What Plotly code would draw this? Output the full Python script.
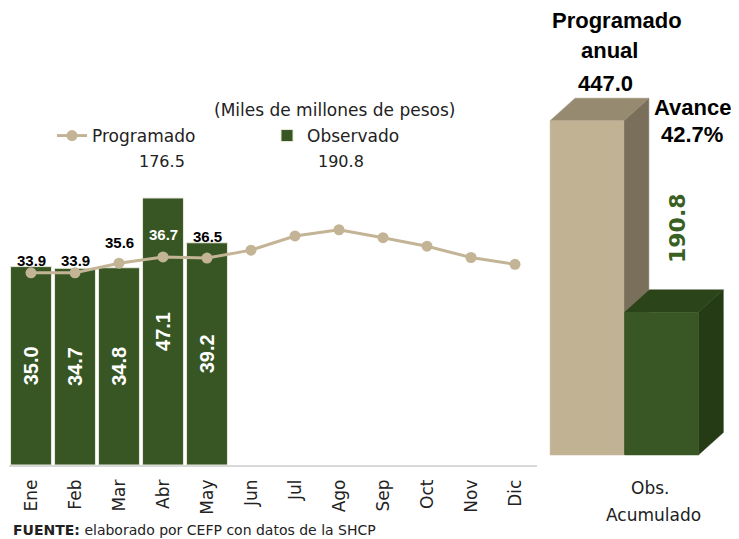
import plotly.graph_objects as go

# ---------------- data ----------------
meses = ["Ene", "Feb", "Mar", "Abr", "May", "Jun", "Jul", "Ago", "Sep", "Oct", "Nov", "Dic"]
programado = [33.9, 33.9, 35.6, 36.7, 36.5, 37.9, 40.4, 41.5, 40.1, 38.6, 36.6, 35.4]
observado = [35.0, 34.7, 34.8, 47.1, 39.2]
prog_acumulado = 176.5
obs_acumulado = 190.8
programado_anual = 447.0
avance_pct = 42.7
acum_categorias = [0, 1]   # 0: Programado anual, 1: Obs. Acumulado
acum_valores = [programado_anual, obs_acumulado]

# ---------------- style ----------------
W, H = 739, 539
OFF = 8                      # page body margin of the html page
FW, FH = W - OFF, H - OFF    # figure size so it fits the window
GREEN = "#375623"
BEIGE_LINE = "#C4B496"
F_THIN = "DejaVu Sans"
F_BOLD = "Liberation Sans"


def px(x):
    return (x - OFF) / FW


def py(y):
    return 1 - (y - OFF) / FH


fig = go.Figure()

# main monthly chart
fig.add_trace(go.Bar(
    x=meses[:len(observado)], y=observado, name="Observado",
    marker=dict(color=GREEN, line=dict(color="#e8e8dc", width=1)),
    text=[f"{v:.1f}" for v in observado], textposition="inside",
    insidetextanchor="middle", textangle=-90,
    textfont=dict(family=F_BOLD, size=20, color="white", weight="bold"),
    hoverinfo="skip",
))
fig.add_trace(go.Scatter(
    x=meses, y=programado, name="Programado", mode="lines+markers",
    line=dict(color=BEIGE_LINE, width=3),
    marker=dict(color=BEIGE_LINE, size=11),
    hoverinfo="skip",
))

# labels for programado (first months)
lab_shift = [12, 12, 21, 22, 22]
lab_color = ["black", "black", "black", "white", "black"]
for i in range(len(observado)):
    fig.add_annotation(
        x=meses[i], y=programado[i], xref="x", yref="y",
        text=f"<b>{programado[i]:.1f}</b>", showarrow=False, yshift=lab_shift[i],
        font=dict(family=F_BOLD, size=15, color=lab_color[i]),
    )

# ---------------- 3D cumulative bars (all faces as filled scatter, drawn in order) ----------------
front_colors = ["#C2B294", "#385724"]
top_colors = ["#968A71", "#2B4419"]
side_colors = ["#7A6F5B", "#253B16"]
half_w = 0.495
dx, dy = 0.335, 30.0


def face(xs, ys, color):
    fig.add_trace(go.Scatter(x=xs, y=ys, fill="toself", fillcolor=color, mode="lines",
                             line=dict(width=0.5, color=color), xaxis="x2", yaxis="y2",
                             showlegend=False, hoverinfo="skip"))


for c, v, fc, tc, sc in zip(acum_categorias, acum_valores, front_colors, top_colors, side_colors):
    l, r = c - half_w, c + half_w
    face([r, r + dx, r + dx, r, r], [0, dy, v + dy, v, 0], sc)
    face([l, l + dx, r + dx, r, l], [v, v + dy, v + dy, v, v], tc)
    face([l, r, r, l, l], [0, 0, v, v, 0], fc)

# ---------------- axes ----------------
base_main, top_main = 465, 95
scale_main = 5.669
fig.update_layout(
    xaxis=dict(domain=[px(9), px(537)], range=[-0.5, 11.5], tickangle=-90,
               tickfont=dict(family=F_THIN, size=17, color="#222"),
               ticklabelstandoff=6,
               showline=True, linecolor="#d9d9d9", linewidth=1.5, ticks="",
               showgrid=False, zeroline=False, fixedrange=True),
    yaxis=dict(domain=[py(base_main), py(top_main)],
               range=[0, (base_main - top_main) / scale_main],
               visible=False, showgrid=False, zeroline=False),
)

base_r = 455
scale_r = 0.748
c0_px, step_px = 587, 74.5
fig.update_layout(
    xaxis2=dict(domain=[px(545), 1], anchor="y2",
                range=[(545 - c0_px) / step_px, (W - c0_px) / step_px], visible=False),
    yaxis2=dict(domain=[0, 1], anchor="x2",
                range=[-(H - base_r) / scale_r, (base_r - OFF) / scale_r], visible=False),
)

# ---------------- annotations ----------------
def ann(x, y, text, size, family=F_THIN, color="#222", angle=0, xanchor="center"):
    fig.add_annotation(x=px(x), y=py(y), xref="paper", yref="paper", text=text,
                       showarrow=False, textangle=angle, xanchor=xanchor, yanchor="middle",
                       font=dict(family=family, size=size, color=color))

ann(334, 110, "(Miles de millones de pesos)", 17)
ann(162, 162, f"{prog_acumulado:.1f}", 16)
ann(341, 162, f"{obs_acumulado:.1f}", 16)
ann(617, 20, "<b>Programado</b>", 22, F_BOLD, "black")
ann(609, 51, "<b>anual</b>", 22, F_BOLD, "black")
ann(605, 84, f"<b>{programado_anual:.1f}</b>", 22, F_BOLD, "black")
ann(692, 108, "<b>Avance</b>", 22, F_BOLD, "black")
ann(692, 134, f"<b>{avance_pct:.1f}%</b>", 22, F_BOLD, "black")
ann(677, 228, f"<b>{obs_acumulado:.1f}</b>", 22, "DejaVu Sans", "#3A5F22", angle=-90)
ann(650, 488, "Obs.", 17)
ann(653, 515, "Acumulado", 17)
ann(11, 530, "<b>FUENTE:</b> elaborado por CEFP con datos de la SHCP", 14, xanchor="left")

fig.update_layout(
    width=FW, height=FH, margin=dict(l=0, r=0, t=0, b=0),
    paper_bgcolor="white", plot_bgcolor="white",
    bargap=0.07, barmode="overlay",
    showlegend=True,
    legend=dict(orientation="h", x=px(52), y=py(136), xanchor="left", yanchor="middle",
                font=dict(family=F_THIN, size=17, color="#222"),
                bgcolor="rgba(0,0,0,0)", traceorder="reversed", entrywidth=170,
                itemwidth=30),
    font=dict(family=F_THIN),
)

fig.write_html("out.html")
